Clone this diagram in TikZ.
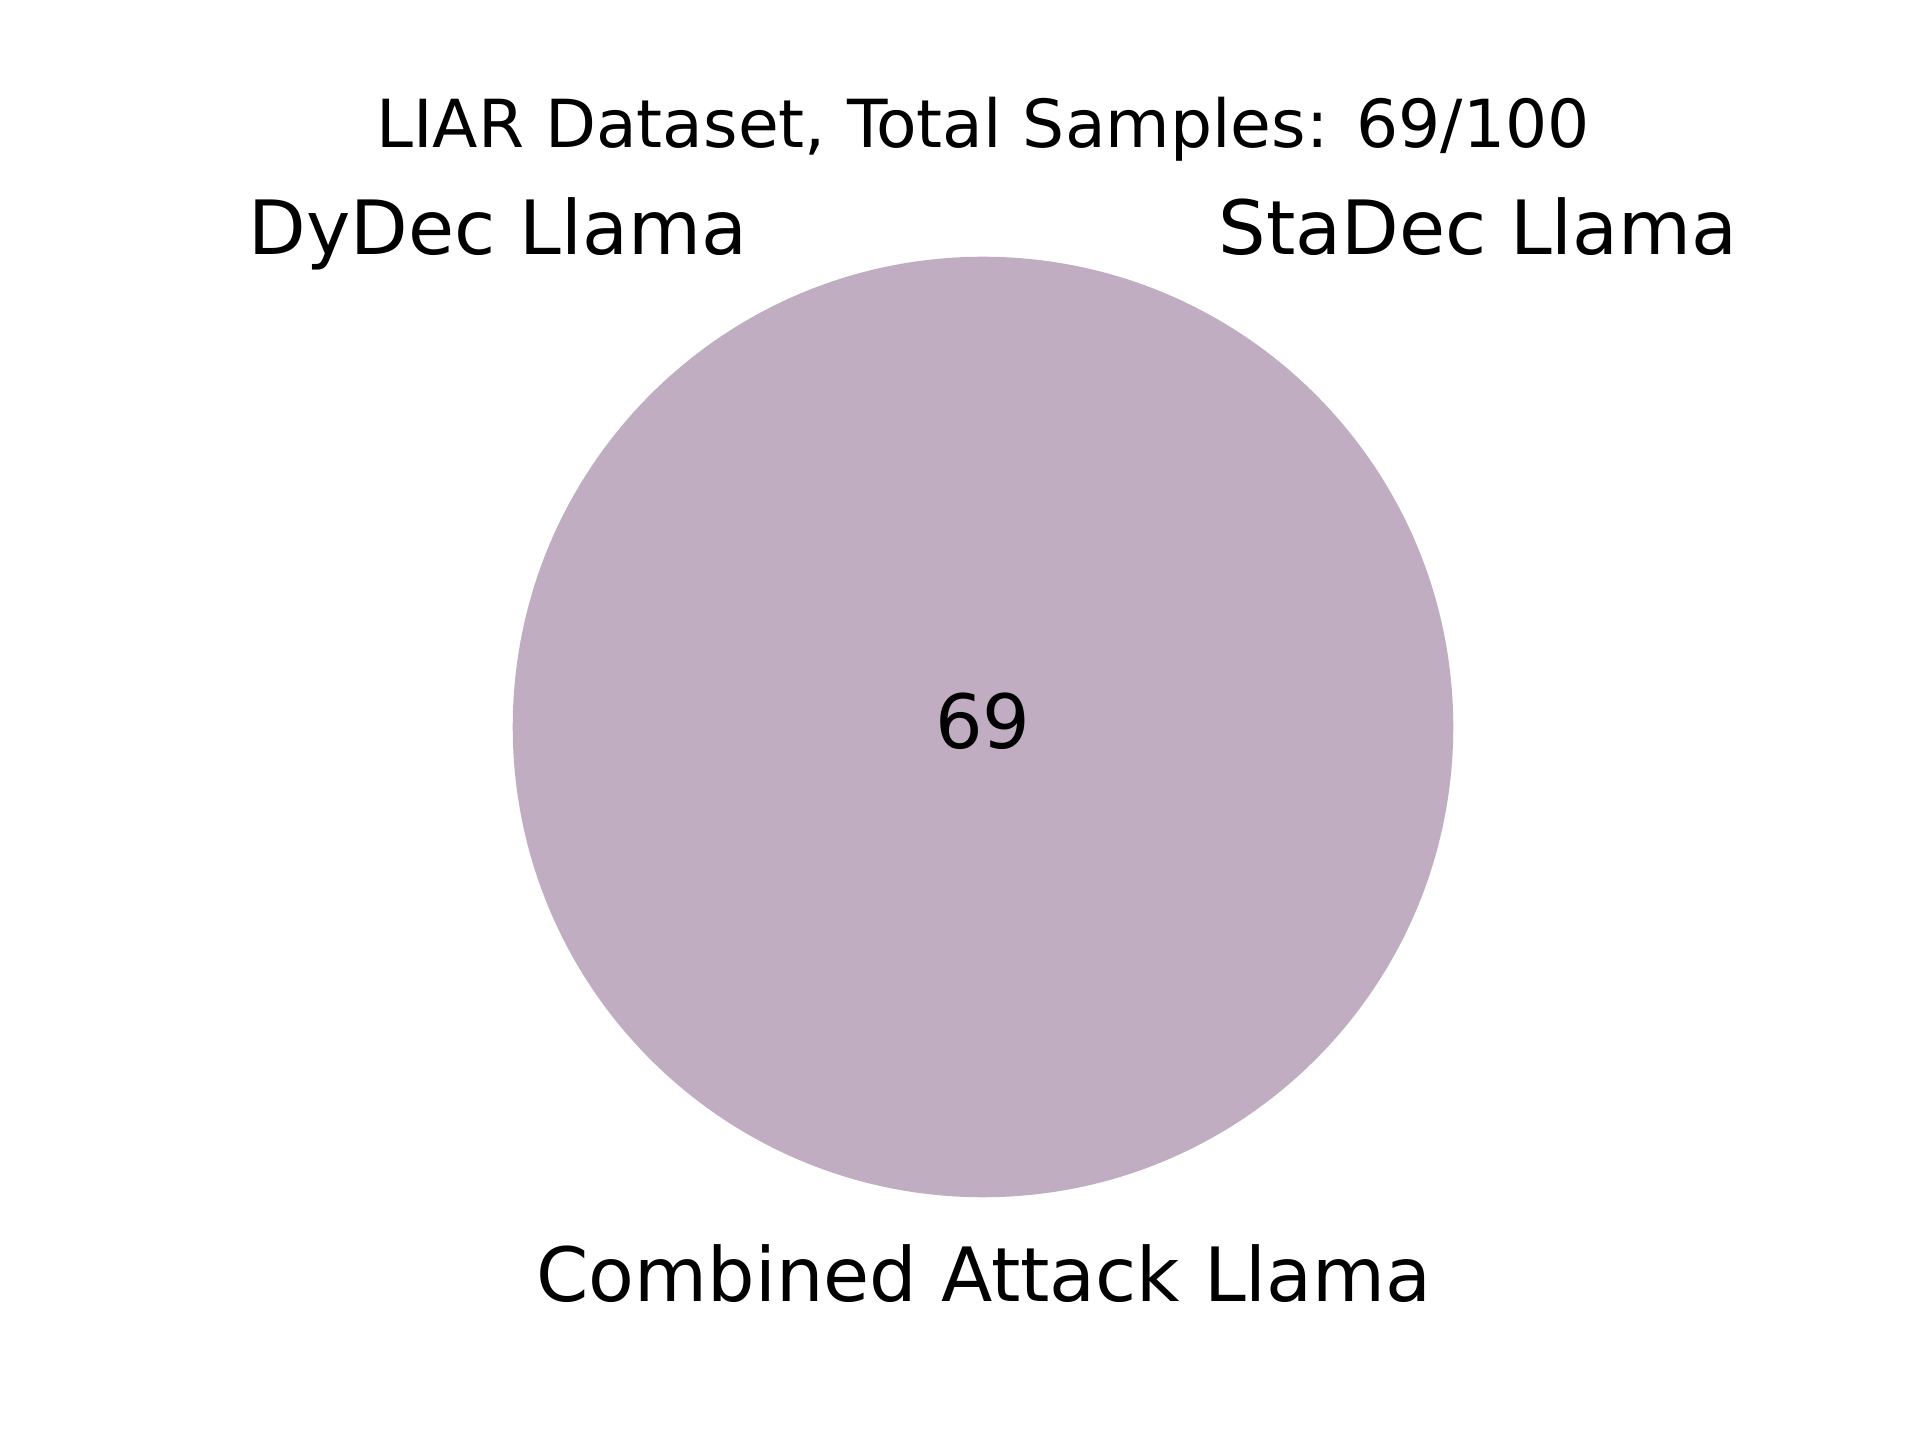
\documentclass[tikz,border=0pt]{standalone}
\usepackage{fontspec}
\setmainfont{DejaVu Sans}
\definecolor{vennfill}{RGB}{192,173,194}
\begin{document}
\begin{tikzpicture}[x=0.01cm,y=-0.01cm,
  lbl/.style={anchor=base,inner sep=0pt,font=\fontsize{21.3}{25}\selectfont},
  ttl/.style={anchor=base,inner sep=0pt,font=\fontsize{18.85}{22}\selectfont}]
\useasboundingbox (0,0) rectangle (1920,1440);
\fill[vennfill] (983,727) circle[radius=4.70cm];
\node[ttl] (title) at (983,148) {LIAR Dataset, Total Samples: 69/100};
\node[lbl] (dydec) at (498,255) {DyDec Llama};
\node[lbl] (stadec) at (1478,255) {StaDec Llama};
\node[lbl] (comb) at (984,1302) {Combined Attack Llama};
\node[lbl] (n69) at (983,749) {69};
\end{tikzpicture}
\end{document}
